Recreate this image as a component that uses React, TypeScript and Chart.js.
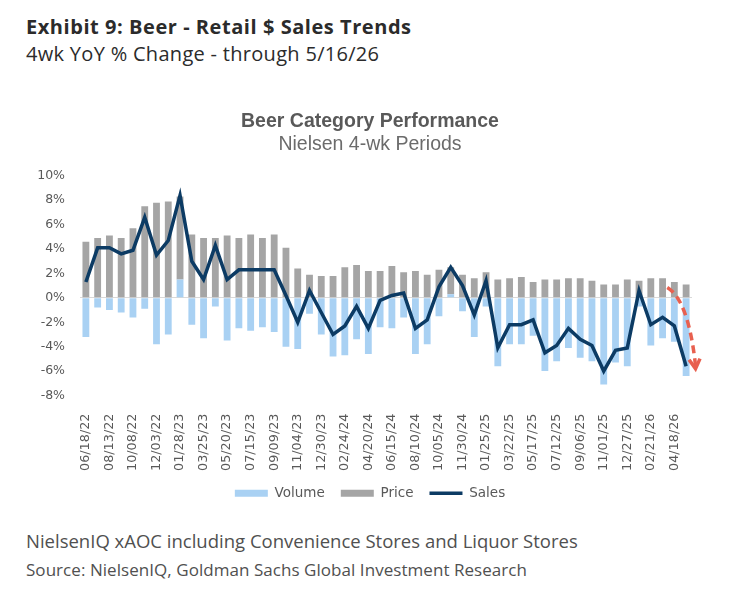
import React, { useEffect, useRef } from 'react';
import { Chart, registerables } from 'chart.js';

Chart.register(...registerables);

// 4-week periods ending on these dates
const categories = [
  '06/18/22', '07/16/22', '08/13/22', '09/10/22', '10/08/22', '11/05/22', '12/03/22', '12/31/22',
  '01/28/23', '02/25/23', '03/25/23', '04/22/23', '05/20/23', '06/17/23', '07/15/23', '08/12/23',
  '09/09/23', '10/07/23', '11/04/23', '12/02/23', '12/30/23', '01/27/24', '02/24/24', '03/23/24',
  '04/20/24', '05/18/24', '06/15/24', '07/13/24', '08/10/24', '09/07/24', '10/05/24', '11/02/24',
  '11/30/24', '12/28/24', '01/25/25', '02/22/25', '03/22/25', '04/19/25', '05/17/25', '06/14/25',
  '07/12/25', '08/09/25', '09/06/25', '10/04/25', '11/01/25', '11/29/25', '12/27/25', '01/24/26',
  '02/21/26', '03/21/26', '04/18/26', '05/16/26',
];

const volume = [
  -3.2, -0.8, -1.0, -1.2, -1.6, -0.9, -3.8, -3.0,
  1.5, -2.2, -3.3, -0.7, -3.5, -2.5, -2.7, -2.4,
  -2.8, -4.0, -4.2, -1.3, -3.0, -4.8, -4.7, -3.4,
  -4.6, -2.4, -2.5, -1.6, -4.6, -3.8, -1.5, 0.3,
  -1.1, -3.2, -0.7, -5.6, -3.8, -3.8, -3.1, -6.0,
  -5.2, -4.1, -4.9, -5.2, -7.1, -5.3, -5.6, -0.7,
  -3.9, -3.3, -3.6, -6.4,
];

const price = [
  4.6, 4.9, 5.1, 4.9, 5.7, 7.5, 7.8, 7.9,
  6.8, 5.2, 4.9, 4.9, 5.1, 4.9, 5.2, 4.9,
  5.2, 4.1, 2.4, 1.9, 1.8, 1.8, 2.5, 2.7,
  2.2, 2.2, 2.6, 2.1, 2.2, 1.9, 2.3, 2.2,
  1.9, 1.6, 2.1, 1.5, 1.6, 1.7, 1.3, 1.5,
  1.5, 1.6, 1.6, 1.4, 1.1, 1.1, 1.5, 1.4,
  1.6, 1.6, 1.3, 1.1,
];

const sales = [
  1.3, 4.1, 4.1, 3.6, 3.9, 6.6, 3.5, 4.7,
  8.4, 3.0, 1.5, 4.3, 1.5, 2.3, 2.3, 2.3,
  2.3, 0.2, -2.0, 0.6, -1.2, -3.0, -2.3, -0.7,
  -2.5, -0.2, 0.2, 0.4, -2.5, -1.8, 0.9, 2.5,
  1.0, -1.4, 1.4, -4.1, -2.2, -2.2, -1.8, -4.5,
  -3.9, -2.5, -3.4, -3.9, -6.0, -4.3, -4.1, 0.6,
  -2.2, -1.6, -2.3, -5.6,
];

const yMin = -8;
const yMax = 10;
const yStep = 2;

// red dashed arrow annotation: start, control, end (category index, % value)
const arrowIdx = [49.4, 51.2, 51.8];
const arrowVal = [0.85, -0.2, -5.8];

const GRAY_TEXT = '#595959';

const arrowPlugin = {
  id: 'trendArrow',
  afterDatasetsDraw(chart: any) {
    const { ctx, scales } = chart;
    const x = scales.x;
    const y = scales.y;
    const pts = arrowIdx.map((v, i) => [x.getPixelForValue(v), y.getPixelForValue(arrowVal[i])]);
    const [s, c, e] = pts;
    ctx.save();
    ctx.strokeStyle = '#e8604f';
    ctx.lineWidth = 3.5;
    ctx.setLineDash([8, 5]);
    ctx.beginPath();
    ctx.moveTo(s[0], s[1]);
    ctx.quadraticCurveTo(c[0], c[1], e[0], e[1] - 3);
    ctx.stroke();
    // arrow head
    ctx.setLineDash([]);
    const dx = e[0] - c[0];
    const dy = e[1] - c[1];
    const len = Math.hypot(dx, dy);
    const ux = dx / len;
    const uy = dy / len;
    const arm = 11;
    const ang = Math.PI / 6;
    const a1 = [e[0] - arm * (ux * Math.cos(ang) - uy * Math.sin(ang)), e[1] - arm * (uy * Math.cos(ang) + ux * Math.sin(ang))];
    const a2 = [e[0] - arm * (ux * Math.cos(-ang) - uy * Math.sin(-ang)), e[1] - arm * (uy * Math.cos(-ang) + ux * Math.sin(-ang))];
    ctx.lineJoin = 'miter';
    ctx.beginPath();
    ctx.moveTo(a1[0], a1[1]);
    ctx.lineTo(e[0], e[1]);
    ctx.lineTo(a2[0], a2[1]);
    ctx.stroke();
    ctx.restore();
  },
};

export default function App() {
  const ref = useRef<HTMLCanvasElement>(null);

  useEffect(() => {
    if (!ref.current) return;
    const chart = new Chart(ref.current, {
      type: 'bar',
      data: {
        labels: categories,
        datasets: [
          {
            type: 'bar',
            label: 'Volume',
            data: volume,
            backgroundColor: '#a9d1f3',
            stack: 'bars',
            order: 1,
            categoryPercentage: 0.58,
            barPercentage: 1,
          },
          {
            type: 'bar',
            label: 'Price',
            data: price,
            backgroundColor: '#a5a5a5',
            stack: 'bars',
            order: 1,
            categoryPercentage: 0.58,
            barPercentage: 1,
          },
          {
            type: 'line',
            label: 'Sales',
            data: sales,
            borderColor: '#0c3b64',
            backgroundColor: '#0c3b64',
            borderWidth: 3.5,
            pointRadius: 0,
            tension: 0,
            stack: 'sales',
            order: 0,
          } as any,
        ],
      },
      options: {
        responsive: false,
        maintainAspectRatio: false,
        animation: false,
        layout: { padding: { top: 0, bottom: 0, left: 0, right: 0 } },
        plugins: {
          tooltip: { enabled: false },
          title: {
            display: true,
            text: 'Beer Category Performance',
            color: GRAY_TEXT,
            font: { family: '"Liberation Sans", Arial, sans-serif', size: 19.5, weight: 'bold' },
            padding: { top: 10, bottom: 0 },
          },
          subtitle: {
            display: true,
            text: 'Nielsen 4-wk Periods',
            color: '#6b6b6b',
            font: { family: '"Liberation Sans", Arial, sans-serif', size: 19.5 },
            padding: { top: 0, bottom: 19 },
          },
          legend: {
            position: 'bottom',
            labels: {
              usePointStyle: true,
              pointStyleWidth: 33,
              boxWidth: 33,
              boxHeight: 7,
              padding: 16,
              color: GRAY_TEXT,
              font: { family: '"DejaVu Sans", sans-serif', size: 13.5 },
              sort: (a: any, b: any) => a.datasetIndex - b.datasetIndex,
              generateLabels: (chart: any) => {
                const items = Chart.defaults.plugins.legend.labels.generateLabels(chart);
                return items.map((it: any) => {
                  if (it.text === 'Sales') {
                    return { ...it, pointStyle: 'line', lineWidth: 3.5, strokeStyle: '#0c3b64' };
                  }
                  return { ...it, pointStyle: 'rect', lineWidth: 0 };
                });
              },
            },
          },
        },
        scales: {
          x: {
            type: 'category',
            stacked: true,
            offset: true,
            grid: { display: false },
            border: { display: false },
            ticks: {
              autoSkip: false,
              maxRotation: 90,
              minRotation: 90,
              padding: 10,
              color: GRAY_TEXT,
              font: { family: '"DejaVu Sans", sans-serif', size: 12.8 },
              callback: (_v: any, i: number) => (i % 2 === 0 ? categories[i] : ''),
            },
            afterFit: (s: any) => {
              s.height = 75;
            },
          },
          y: {
            stacked: true,
            min: yMin,
            max: yMax,
            border: { display: false },
            grid: {
              drawTicks: false,
              color: (c: any) => (c.tick && c.tick.value === 0 ? '#d9d9d9' : 'rgba(0,0,0,0)'),
              lineWidth: 1,
            },
            ticks: {
              stepSize: yStep,
              padding: 15,
              color: GRAY_TEXT,
              font: { family: '"DejaVu Sans", sans-serif', size: 12.5 },
              callback: (v: any) => `${v}%`,
            },
            afterFit: (s: any) => {
              s.width = 60;
            },
          },
          yRight: {
            position: 'right',
            display: true,
            grid: { display: false },
            border: { display: false },
            ticks: { display: false },
            afterFit: (s: any) => {
              s.width = 28;
            },
          },
        },
      } as any,
      plugins: [arrowPlugin],
    });
    return () => chart.destroy();
  }, []);

  const abs: React.CSSProperties = { position: 'absolute', whiteSpace: 'nowrap' };

  return (
    <div
      style={{
        position: 'absolute',
        left: 0,
        top: 0,
        width: 729,
        height: 599,
        background: '#ffffff',
        fontFamily: '"Open Sans", sans-serif',
        overflow: 'hidden',
      }}
    >
      <div style={{ ...abs, left: 26, top: 12.5, fontSize: 20, lineHeight: '28px', fontWeight: 700, color: '#2b2b2b', letterSpacing: '0.55px' }}>
        Exhibit 9: Beer - Retail $ Sales Trends
      </div>
      <div style={{ ...abs, left: 26, top: 40.2, fontSize: 20, lineHeight: '28px', color: '#2b2b2b', letterSpacing: '0.3px' }}>
        4wk YoY % Change - through 5/16/26
      </div>
      <div style={{ position: 'absolute', left: 20, top: 100, width: 700, height: 410 }}>
        <canvas ref={ref} width={700} height={410} style={{ display: 'block' }} />
      </div>
      <div style={{ ...abs, left: 26, top: 529, fontSize: 18.5, lineHeight: '24px', color: '#505050' }}>
        NielsenIQ xAOC including Convenience Stores and Liquor Stores
      </div>
      <div style={{ ...abs, left: 26, top: 559.4, fontSize: 17, lineHeight: '22px', color: '#505050', letterSpacing: '0.05px' }}>
        Source: NielsenIQ, Goldman Sachs Global Investment Research
      </div>
    </div>
  );
}
